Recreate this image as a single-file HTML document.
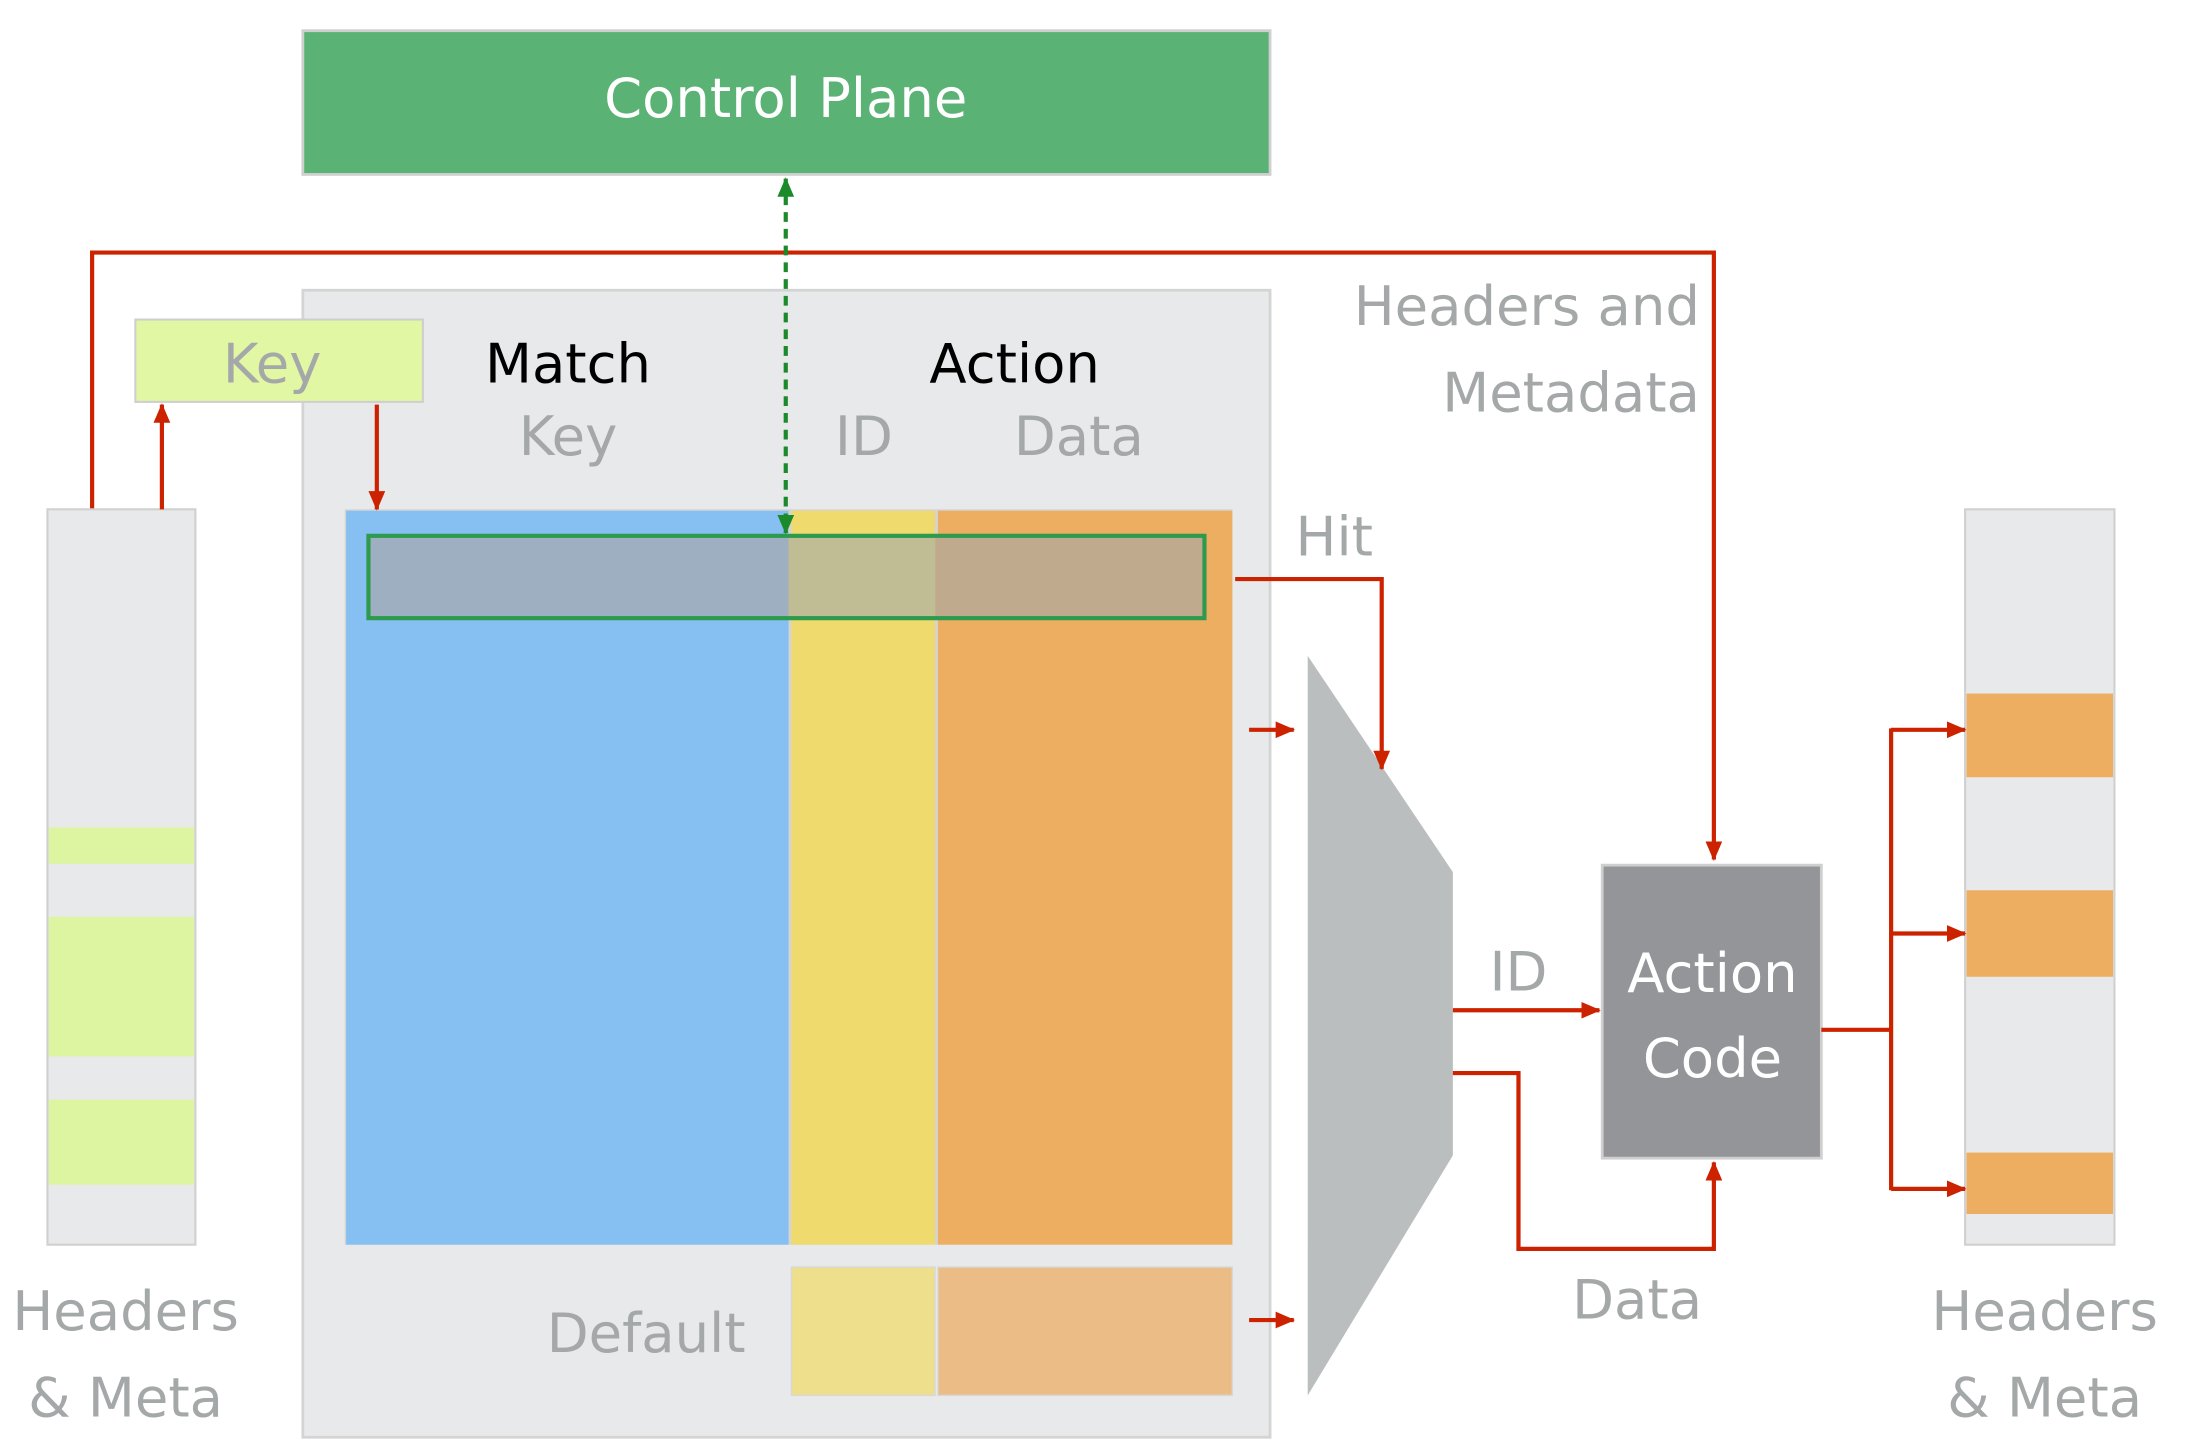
<!DOCTYPE html>
<html><head><meta charset="utf-8"><style>
html,body{margin:0;padding:0;background:#fff;}
svg{display:block;}
text{font-family:"DejaVu Sans","Liberation Sans",sans-serif;}
</style></head><body>
<svg width="2187" height="1454" viewBox="0 0 1567 1042" preserveAspectRatio="none" xmlns="http://www.w3.org/2000/svg">
<defs>
<marker id="ar" markerWidth="14" markerHeight="12" refX="13" refY="6" orient="auto" markerUnits="userSpaceOnUse"><path d="M0,0 L14,6 L0,12 z" fill="#cc2200"/></marker>
<marker id="ag" markerWidth="14" markerHeight="12" refX="13" refY="6" orient="auto" markerUnits="userSpaceOnUse"><path d="M0,0 L14,6 L0,12 z" fill="#1a8a2a"/></marker>
<marker id="ags" markerWidth="14" markerHeight="12" refX="1" refY="6" orient="auto" markerUnits="userSpaceOnUse"><path d="M14,0 L0,6 L14,12 z" fill="#1a8a2a"/></marker>
</defs>
<g stroke="#cc2200" stroke-width="3" fill="none">
<polyline points="66,365 66,181 1228,181 1228,616" marker-end="url(#ar)"/>
</g>
<rect x="217" y="22" width="693" height="103" fill="#5bb275" stroke="#cfcfcf" stroke-width="2"/>
<text x="563" y="84" font-size="39" fill="#fff" text-anchor="middle">Control Plane</text>
<rect x="217" y="208" width="693" height="822" fill="#e8e9ea" stroke="#d4d4d4" stroke-width="2"/>
<rect x="97" y="229" width="206" height="59" fill="#e2f7a4" stroke="#cfcfcf" stroke-width="1.5"/>
<text x="195" y="274" font-size="39" fill="#a5a8a8" text-anchor="middle">Key</text>
<rect x="34" y="365" width="106" height="527" fill="#e8e9ea" stroke="#d0d0d0" stroke-width="1.5"/>
<rect x="35" y="593" width="104" height="26" fill="#ddf5a0"/>
<rect x="35" y="657" width="104" height="100" fill="#ddf5a0"/>
<rect x="35" y="788" width="104" height="61" fill="#ddf5a0"/>
<g font-size="39" text-anchor="middle">
<text x="407" y="274" fill="#000">Match</text>
<text x="727" y="274" fill="#000">Action</text>
<text x="407" y="326" fill="#a5a8a8">Key</text>
<text x="619" y="326" fill="#a5a8a8">ID</text>
<text x="773" y="326" fill="#a5a8a8">Data</text>
<text x="463" y="969" fill="#a5a8a8">Default</text>
<text x="956" y="398" fill="#a5a8a8">Hit</text>
<text x="1088" y="710" fill="#a5a8a8">ID</text>
<text x="1173" y="945" fill="#a5a8a8">Data</text>
<text x="90" y="953" fill="#a5a8a8">Headers</text>
<text x="90" y="1015" fill="#a5a8a8">&amp; Meta</text>
<text x="1465" y="953" fill="#a5a8a8">Headers</text>
<text x="1465" y="1015" fill="#a5a8a8">&amp; Meta</text>
</g>
<g font-size="39" text-anchor="end" fill="#a5a8a8">
<text x="1218" y="233">Headers and</text>
<text x="1218" y="295">Metadata</text>
</g>
<rect x="247" y="365" width="636" height="527" fill="#d4d4d4"/>
<rect x="248" y="366" width="317" height="526" fill="#86bff2"/>
<rect x="567" y="366" width="103" height="526" fill="#efda6e"/>
<rect x="672" y="366" width="211" height="526" fill="#eeae62"/>
<rect x="264" y="384" width="301" height="59" fill="#9dafc0"/>
<rect x="565" y="384" width="105" height="59" fill="#c0bd94"/>
<rect x="670" y="384" width="193" height="59" fill="#c0aa8e"/>
<rect x="264" y="384" width="599" height="59" fill="none" stroke="#2e9a4e" stroke-width="3"/>
<rect x="567" y="908" width="103" height="92" fill="#eedf8c" stroke="#d8d8d8"/>
<rect x="672" y="908" width="211" height="92" fill="#ecbc86" stroke="#d8d8d8"/>
<line x1="563" y1="128" x2="563" y2="382" stroke="#1a8a2a" stroke-width="3" stroke-dasharray="7,5" marker-start="url(#ags)" marker-end="url(#ag)"/>
<polygon points="937,470 1041,625 1041,828 937,1000" fill="#bbbebf"/>
<rect x="1148" y="620" width="157" height="210" fill="#939598" stroke="#cfcfcf" stroke-width="2"/>
<text x="1227" y="711" font-size="39" fill="#fff" text-anchor="middle">Action</text>
<text x="1227" y="772" font-size="39" fill="#fff" text-anchor="middle">Code</text>
<rect x="1408" y="365" width="107" height="527" fill="#e8e9ea" stroke="#d0d0d0" stroke-width="1.5"/>
<rect x="1409" y="497" width="105" height="60" fill="#eeae62"/>
<rect x="1409" y="638" width="105" height="62" fill="#eeae62"/>
<rect x="1409" y="826" width="105" height="44" fill="#eeae62"/>
<g stroke="#cc2200" stroke-width="3" fill="none">
<line x1="116" y1="365" x2="116" y2="290" marker-end="url(#ar)"/>
<line x1="270" y1="290" x2="270" y2="365" marker-end="url(#ar)"/>
<polyline points="885,415 990,415 990,551" marker-end="url(#ar)"/>
<line x1="895" y1="523" x2="927" y2="523" marker-end="url(#ar)"/>
<line x1="895" y1="946" x2="927" y2="946" marker-end="url(#ar)"/>
<line x1="1041" y1="724" x2="1146" y2="724" marker-end="url(#ar)"/>
<polyline points="1041,769 1088,769 1088,895 1228,895 1228,833" marker-end="url(#ar)"/>
<polyline points="1305,738 1355,738"/>
<line x1="1355" y1="522" x2="1355" y2="853"/>
<line x1="1355" y1="523" x2="1408" y2="523" marker-end="url(#ar)"/>
<line x1="1355" y1="669" x2="1408" y2="669" marker-end="url(#ar)"/>
<line x1="1355" y1="852" x2="1408" y2="852" marker-end="url(#ar)"/>
</g>
</svg>
</body></html>
